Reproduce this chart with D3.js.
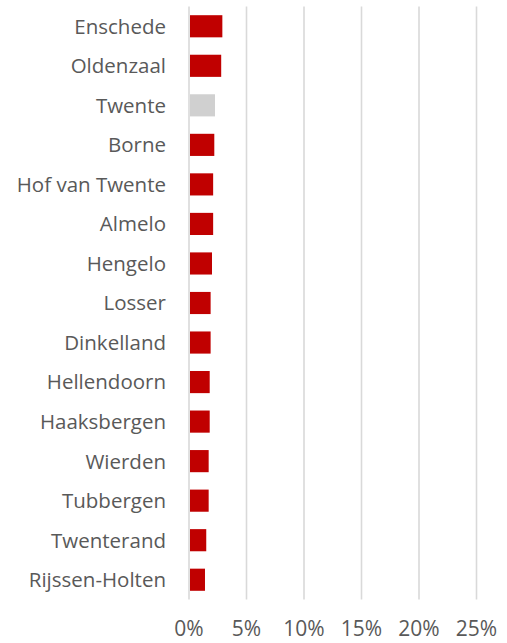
<!DOCTYPE html>
<html>
<head>
<meta charset="utf-8">
<script src="https://cdn.jsdelivr.net/npm/d3@7"></script>
<style>
  body { margin: 0; background: #fff; }
  svg { display: block; font-family: "Open Sans", sans-serif; }
</style>
</head>
<body>
<div id="vis"></div>
<script>
var width = 507,
    height = 643;

var gemeenten = ["Enschede", "Oldenzaal", "Twente", "Borne", "Hof van Twente", "Almelo",
    "Hengelo", "Losser", "Dinkelland", "Hellendoorn", "Haaksbergen", "Wierden",
    "Tubbergen", "Twenterand", "Rijssen-Holten"];
var aandeel = [0.029, 0.028, 0.0226, 0.022, 0.021, 0.021, 0.020, 0.0188, 0.0188,
    0.018, 0.018, 0.0171, 0.0171, 0.015, 0.0139];
var ticks = [0, 0.05, 0.10, 0.15, 0.20, 0.25];

var margin = {top: 6.5, right: 30.5, bottom: 43.5, left: 189};

var svg = d3.select("#vis").append("svg")
    .attr("width", width)
    .attr("height", height);

var x = d3.scaleLinear()
    .domain([0, 0.25])
    .range([margin.left, width - margin.right]);

var y = d3.scaleBand()
    .domain(gemeenten)
    .range([margin.top, height - margin.bottom])
    .paddingInner(0.44)
    .paddingOuter(0.22);

// gridlines
svg.append("g")
    .selectAll("line")
    .data(ticks)
    .enter().append("line")
    .attr("x1", function(d) { return x(d); })
    .attr("x2", function(d) { return x(d); })
    .attr("y1", margin.top)
    .attr("y2", height - margin.bottom)
    .attr("stroke", "#d9d9d9")
    .attr("stroke-width", 1.6);

svg.append("g")
    .selectAll("rect")
    .data(gemeenten)
    .enter().append("rect")
    .attr("x", x(0) + 1)
    .attr("y", function(d) { return y(d); })
    .attr("width", function(d, i) { return x(aandeel[i]) - x(0) - 1; })
    .attr("height", y.bandwidth())
    .attr("fill", function(d) { return d === "Twente" ? "#d0d0d0" : "#c00000"; });

// category labels
svg.append("g")
    .selectAll("text")
    .data(gemeenten)
    .enter().append("text")
    .attr("x", 166)
    .attr("y", function(d) { return y(d) + y.bandwidth() / 2; })
    .attr("dy", "0.36em")
    .attr("text-anchor", "end")
    .attr("fill", "#595959")
    .style("font-size", "20.5px")
    .text(function(d) { return d; });

// x axis labels
svg.append("g")
    .selectAll("text")
    .data(ticks)
    .enter().append("text")
    .attr("x", function(d) { return x(d); })
    .attr("y", 636)
    .attr("text-anchor", "middle")
    .attr("fill", "#595959")
    .style("font-size", "21px")
    .text(d3.format(".0%"));
</script>
</body>
</html>
